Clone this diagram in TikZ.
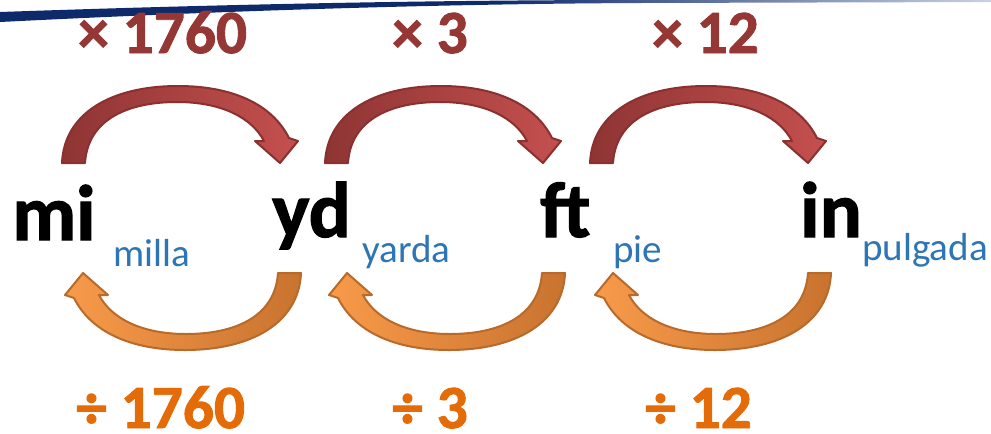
\documentclass[tikz,border=0pt]{standalone}
\usepackage{fontspec}
\setmainfont{Carlito}[BoldFeatures={FakeBold=1.5}]
\definecolor{topred}{HTML}{953735}
\definecolor{redlight}{HTML}{C4504E}
\definecolor{reddark}{HTML}{8E3534}
\definecolor{redline}{HTML}{8A3030}
\definecolor{orlight}{HTML}{F89A4A}
\definecolor{ordark}{HTML}{C8732F}
\definecolor{orline}{HTML}{B86A2A}
\definecolor{bottxt}{HTML}{E36C09}
\definecolor{bluetxt}{HTML}{2E75B6}
\definecolor{navy}{HTML}{0E2A6B}
\definecolor{navylight}{HTML}{C9D2E3}
\tikzset{
  unitlbl/.style={inner sep=0, anchor=base west, font=\fontsize{59}{60}\selectfont\bfseries, text=black},
  namelbl/.style={inner sep=0, anchor=base west, font=\fontsize{29.3}{30}\selectfont, text=bluetxt},
  mullbl/.style={inner sep=0, anchor=base west, font=\fontsize{46}{48}\selectfont\bfseries, text=topred},
  dvdlbl/.style={inner sep=0, anchor=base west, font=\fontsize{46}{48}\selectfont\bfseries, text=bottxt},
  toparrow/.style={left color=reddark, right color=redlight, draw=redline, line width=1.5pt, line join=round},
  botarrow/.style={left color=orlight, right color=ordark, draw=orline, line width=1.5pt, line join=round},
}
\newcommand\arrowshape{(85,163) .. controls (88,118) and (130,102) .. (177,102) .. controls (222,102) and (252,118) .. (264,141) -- (255,141) -- (280,163) -- (298,141) -- (289,138) .. controls (272,104) and (232,86) .. (178,86) .. controls (110,86) and (64,114) .. (62,163) -- cycle}
\begin{document}
\begin{tikzpicture}[x=0.75pt,y=-0.75pt]
\useasboundingbox (0,0) rectangle (991,433);
% swoosh
\path[left color=navy, right color=navylight, middle color=navy]
  (0,12) .. controls (200,5) and (420,0) .. (640,0) -- (991,0) -- (991,2)
  -- (640,3) .. controls (420,4) and (200,12) .. (0,22) -- cycle;
% top arrows
\foreach \dx in {0,263,528}{
  \begin{scope}[shift={(\dx,0)}]
    \path[toparrow] \arrowshape;
  \end{scope}
}
% bottom arrows
\foreach \dx in {0,264,530}{
  \begin{scope}[shift={(363+\dx,436)}, xscale=-1, yscale=-1]
    \path[botarrow] \arrowshape;
  \end{scope}
}
% units
\node[unitlbl] (mi) at (12,240) {mi};
\node[unitlbl] (yd) at (272,237) {yd};
\node[unitlbl] (ft) at (540,237) {ft};
\node[unitlbl] (in) at (800,237) {in};
% names
\node[namelbl] (milla) at (113,266) {milla};
\node[namelbl] (yarda) at (362,262) {yarda};
\node[namelbl] (pie) at (613,262) {pie};
\node[namelbl] (pulgada) at (862,260) {pulgada};
% factors
\node[mullbl] (m1) at (78,53) {× 1760};
\node[mullbl] (m2) at (392,53) {× 3};
\node[mullbl] (m3) at (652,53) {× 12};
\node[dvdlbl] (d1) at (76,428) {÷ 1760};
\node[dvdlbl] (d2) at (392,428) {÷ 3};
\node[dvdlbl] (d3) at (645,428) {÷ 12};
\end{tikzpicture}
\end{document}
